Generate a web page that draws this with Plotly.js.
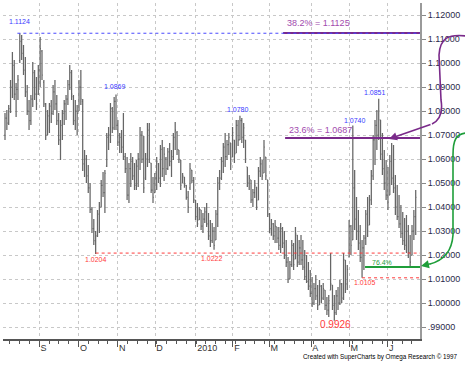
<!DOCTYPE html>
<html><head><meta charset="utf-8">
<script src="https://cdn.plot.ly/plotly-3.0.1.min.js"></script>
<style>html,body{margin:0;padding:0;background:#fff}#chart{width:465px;height:372px}</style>
</head><body><div id="chart"></div>
<script>
const highs=[1.0792,1.0804,1.0825,1.0929,1.1046,1.1013,1.0917,1.0950,1.1124,1.1117,
1.1075,1.1025,1.0908,1.0846,1.0867,1.1004,1.0971,1.0942,1.0992,1.1108,
1.1054,1.0929,1.0833,1.0804,1.0833,1.0846,1.0908,1.0929,1.0867,1.0792,
1.0763,1.0804,1.0846,1.0867,1.0929,1.0992,1.0971,1.0867,1.0846,1.0825,
1.0929,1.0971,1.0850,1.0638,1.0617,1.0575,1.0500,1.0400,1.0350,1.0300,
1.0388,1.0421,1.0513,1.0546,1.0554,1.0708,1.0733,1.0833,1.0817,1.0858,
1.0869,1.0763,1.0708,1.0721,1.0792,1.0625,1.0608,1.0583,1.0625,1.0608,
1.0583,1.0596,1.0625,1.0733,1.0717,1.0696,1.0625,1.0750,1.0750,1.0583,
1.0525,1.0542,1.0608,1.0583,1.0658,1.0679,1.0650,1.0608,1.0646,1.0667,
1.0638,1.0708,1.0754,1.0717,1.0638,1.0596,1.0542,1.0525,1.0492,1.0467,
1.0583,1.0554,1.0525,1.0429,1.0417,1.0400,1.0388,1.0375,1.0400,1.0417,
1.0375,1.0346,1.0333,1.0317,1.0388,1.0525,1.0554,1.0608,1.0667,1.0708,
1.0679,1.0708,1.0667,1.0733,1.0679,1.0763,1.0763,1.0780,1.0771,1.0750,
1.0679,1.0567,1.0533,1.0513,1.0475,1.0513,1.0483,1.0567,1.0608,1.0596,
1.0679,1.0608,1.0513,1.0375,1.0350,1.0333,1.0346,1.0317,1.0317,1.0333,
1.0317,1.0300,1.0263,1.0192,1.0175,1.0263,1.0250,1.0317,1.0283,1.0263,
1.0283,1.0263,1.0221,1.0200,1.0171,1.0138,1.0108,1.0083,1.0117,1.0075,
1.0096,1.0075,1.0083,1.0054,1.0025,1.0033,1.0208,1.0075,1.0033,1.0054,
1.0067,1.0096,1.0083,1.0208,1.0179,1.0158,1.0346,1.0325,1.0740,1.0554,
1.0442,1.0388,1.0325,1.0263,1.0283,1.0388,1.0442,1.0450,1.0554,1.0700,
1.0763,1.0804,1.0851,1.0763,1.0708,1.0638,1.0596,1.0567,1.0617,1.0667,
1.0658,1.0533,1.0492,1.0450,1.0408,1.0379,1.0354,1.0367,1.0325,1.0283,
1.0325,1.0388,1.0471];
const lows=[1.0679,1.0721,1.0742,1.0792,1.0854,1.0846,1.0775,1.0846,1.1000,1.1013,
1.0950,1.0858,1.0783,1.0721,1.0742,1.0817,1.0846,1.0804,1.0867,1.0900,
1.0929,1.0817,1.0679,1.0700,1.0708,1.0750,1.0783,1.0804,1.0742,1.0658,
1.0596,1.0679,1.0742,1.0763,1.0825,1.0888,1.0846,1.0742,1.0721,1.0700,
1.0800,1.0825,1.0550,1.0525,1.0500,1.0458,1.0375,1.0292,1.0242,1.0204,
1.0275,1.0292,1.0400,1.0442,1.0375,1.0567,1.0638,1.0667,1.0708,1.0721,
1.0721,1.0654,1.0625,1.0625,1.0596,1.0542,1.0429,1.0417,1.0483,1.0513,
1.0471,1.0471,1.0483,1.0554,1.0583,1.0458,1.0513,1.0567,1.0583,1.0458,
1.0417,1.0458,1.0471,1.0500,1.0483,1.0525,1.0508,1.0533,1.0554,1.0570,
1.0525,1.0596,1.0638,1.0617,1.0583,1.0471,1.0500,1.0480,1.0430,1.0375,
1.0471,1.0500,1.0417,1.0346,1.0317,1.0346,1.0304,1.0292,1.0333,1.0317,
1.0263,1.0233,1.0250,1.0222,1.0263,1.0317,1.0471,1.0513,1.0542,1.0567,
1.0596,1.0617,1.0554,1.0608,1.0583,1.0625,1.0654,1.0679,1.0667,1.0646,
1.0583,1.0483,1.0471,1.0417,1.0400,1.0438,1.0388,1.0429,1.0525,1.0513,
1.0542,1.0513,1.0358,1.0292,1.0280,1.0263,1.0250,1.0250,1.0221,1.0208,
1.0229,1.0183,1.0150,1.0083,1.0100,1.0150,1.0138,1.0183,1.0150,1.0158,
1.0158,1.0138,1.0096,1.0083,1.0054,1.0025,0.9983,0.9992,1.0013,0.9971,
0.9992,1.0000,1.0013,0.9971,0.9950,0.9942,1.0054,0.9971,0.9926,0.9950,
0.9971,0.9992,1.0000,1.0013,1.0042,1.0054,1.0192,1.0200,1.0263,1.0304,
1.0263,1.0221,1.0171,1.0105,1.0138,1.0242,1.0275,1.0325,1.0408,1.0513,
1.0575,1.0638,1.0679,1.0596,1.0533,1.0471,1.0429,1.0388,1.0450,1.0492,
1.0458,1.0367,1.0346,1.0313,1.0271,1.0242,1.0221,1.0208,1.0188,1.0146,
1.0200,1.0263,1.0283];
const opens=[1.0700,1.0770,1.0750,1.0810,1.0900,1.0990,1.0870,1.0890,1.1010,1.1090,
1.1040,1.0970,1.0880,1.0800,1.0760,1.0850,1.0960,1.0870,1.0870,1.0970,
1.1050,1.0920,1.0830,1.0700,1.0780,1.0820,1.0790,1.0880,1.0830,1.0760,
1.0680,1.0740,1.0790,1.0830,1.0850,1.0910,1.0960,1.0860,1.0760,1.0800,
1.0800,1.0900,1.0840,1.0580,1.0600,1.0530,1.0480,1.0390,1.0310,1.0260,
1.0280,1.0370,1.0400,1.0490,1.0460,1.0570,1.0690,1.0700,1.0810,1.0730,
1.0840,1.0740,1.0670,1.0690,1.0650,1.0610,1.0560,1.0450,1.0560,1.0590,
1.0530,1.0490,1.0570,1.0600,1.0700,1.0600,1.0520,1.0600,1.0720,1.0583,
1.0470,1.0460,1.0520,1.0580,1.0520,1.0640,1.0560,1.0600,1.0560,1.0630,
1.0590,1.0610,1.0690,1.0710,1.0638,1.0596,1.0500,1.0525,1.0490,1.0440,
1.0480,1.0554,1.0510,1.0429,1.0360,1.0346,1.0388,1.0320,1.0350,1.0380,
1.0330,1.0280,1.0260,1.0300,1.0263,1.0370,1.0500,1.0520,1.0590,1.0650,
1.0610,1.0660,1.0667,1.0608,1.0679,1.0625,1.0740,1.0680,1.0760,1.0690,
1.0679,1.0567,1.0500,1.0513,1.0430,1.0460,1.0483,1.0429,1.0550,1.0580,
1.0542,1.0608,1.0513,1.0370,1.0310,1.0330,1.0280,1.0317,1.0270,1.0240,
1.0310,1.0250,1.0200,1.0170,1.0100,1.0160,1.0240,1.0183,1.0283,1.0170,
1.0230,1.0180,1.0150,1.0110,1.0090,1.0070,1.0040,1.0000,1.0060,1.0030,
0.9992,1.0070,1.0020,1.0054,0.9990,0.9970,1.0054,1.0075,0.9990,0.9960,
1.0030,1.0000,1.0080,1.0020,1.0179,1.0080,1.0192,1.0320,1.0263,1.0480,
1.0350,1.0300,1.0250,1.0190,1.0230,1.0270,1.0370,1.0325,1.0430,1.0530,
1.0680,1.0740,1.0700,1.0763,1.0620,1.0560,1.0500,1.0450,1.0450,1.0590,
1.0520,1.0480,1.0400,1.0360,1.0330,1.0290,1.0260,1.0240,1.0300,1.0210,
1.0200,1.0300,1.0360];
const closes=[1.0770,1.0750,1.0810,1.0900,1.0990,1.0870,1.0890,1.0930,1.1090,1.1040,
1.0970,1.0880,1.0800,1.0760,1.0850,1.0960,1.0870,1.0830,1.0970,1.1060,
1.0950,1.0830,1.0700,1.0780,1.0820,1.0790,1.0880,1.0830,1.0760,1.0680,
1.0740,1.0790,1.0830,1.0850,1.0910,1.0960,1.0870,1.0760,1.0800,1.0790,
1.0900,1.0850,1.0580,1.0600,1.0530,1.0480,1.0390,1.0310,1.0260,1.0280,
1.0370,1.0400,1.0490,1.0460,1.0540,1.0690,1.0700,1.0810,1.0730,1.0840,
1.0740,1.0670,1.0690,1.0650,1.0610,1.0560,1.0450,1.0560,1.0590,1.0530,
1.0490,1.0570,1.0600,1.0700,1.0600,1.0480,1.0600,1.0720,1.0600,1.0470,
1.0440,1.0520,1.0590,1.0520,1.0640,1.0560,1.0620,1.0560,1.0630,1.0590,
1.0610,1.0690,1.0720,1.0640,1.0600,1.0490,1.0530,1.0490,1.0440,1.0400,
1.0560,1.0510,1.0430,1.0360,1.0330,1.0390,1.0320,1.0350,1.0380,1.0330,
1.0280,1.0260,1.0300,1.0240,1.0370,1.0500,1.0520,1.0590,1.0650,1.0610,
1.0660,1.0690,1.0580,1.0710,1.0620,1.0740,1.0680,1.0760,1.0690,1.0730,
1.0600,1.0500,1.0520,1.0430,1.0460,1.0490,1.0400,1.0550,1.0580,1.0530,
1.0650,1.0530,1.0370,1.0310,1.0330,1.0280,1.0320,1.0270,1.0240,1.0310,
1.0250,1.0200,1.0170,1.0100,1.0160,1.0240,1.0160,1.0290,1.0170,1.0230,
1.0180,1.0150,1.0110,1.0090,1.0070,1.0040,1.0000,1.0060,1.0030,0.9990,
1.0070,1.0020,1.0060,0.9990,0.9970,1.0010,1.0080,0.9990,0.9960,1.0030,
1.0000,1.0080,1.0020,1.0180,1.0080,1.0140,1.0320,1.0240,1.0480,1.0350,
1.0300,1.0250,1.0190,1.0230,1.0270,1.0370,1.0300,1.0430,1.0530,1.0680,
1.0740,1.0700,1.0800,1.0620,1.0560,1.0500,1.0450,1.0420,1.0590,1.0520,
1.0480,1.0400,1.0360,1.0330,1.0290,1.0260,1.0240,1.0300,1.0210,1.0170,
1.0300,1.0360,1.0440];

// month tick positions (in bar units) and labels
const monthTicks=[18.5,39.8,60.9,81.1,103.2,123.2,142.9,165.4,186.1,206.9];
const monthLabels=['S','O','N','D','2010','F','M','A','M','J'];
const priceTicks=[0.99,1.00,1.01,1.02,1.03,1.04,1.05,1.06,1.07,1.08,1.09,1.10,1.11,1.12];
const priceLabels=['.99000','1.00000','1.01000','1.02000','1.03000','1.04000','1.05000','1.06000','1.07000','1.08000','1.09000','1.10000','1.11000','1.12000'];
const fibLevels=[1.1125,1.0687,1.0150];
const fibLabels=['38.2% = 1.1125','23.6% = 1.0687','76.4%'];

const idx=highs.map((_,i)=>i);
const XEND=224.32;
const L=3,T=3,W=417,H=336;
const px=x=>(x-L)/W, py=y=>(T+H-y)/H;

const trace={type:'ohlc',x:idx,open:opens,high:highs,low:lows,close:closes,
  increasing:{line:{color:'#666666',width:1.25}},decreasing:{line:{color:'#666666',width:1.25}},
  tickwidth:0.45,hoverinfo:'skip',showlegend:false};

const purple='#7a2a8a', purpleTxt='#a24aae', green='#1f9e3a', blue='#3a3aff', red='#ff3b3b';
const hiI=v=>highs.indexOf(v), loI=v=>lows.indexOf(v);

const shapes=[
 {type:'line',xref:'x',yref:'y',x0:150.3,x1:XEND,y0:fibLevels[0],y1:fibLevels[0],line:{color:purple,width:2}},
 {type:'line',xref:'x',yref:'y',x0:hiI(1.1124)-1.3,x1:XEND,y0:1.1124,y1:1.1124,line:{color:'#4848ff',width:1,dash:'dot'}},
 {type:'line',xref:'x',yref:'y',x0:151.4,x1:XEND,y0:fibLevels[1],y1:fibLevels[1],line:{color:purple,width:2}},
 {type:'line',xref:'x',yref:'y',x0:loI(1.0204),x1:XEND,y0:1.0208,y1:1.0208,line:{color:red,width:1,dash:'dot'}},
 {type:'line',xref:'x',yref:'y',x0:loI(1.0105),x1:XEND,y0:1.0105,y1:1.0105,line:{color:red,width:1,dash:'dot'}},
 {type:'line',xref:'x',yref:'y',x0:194.6,x1:XEND,y0:fibLevels[2],y1:fibLevels[2],line:{color:green,width:2}},
 {type:'path',xref:'paper',yref:'paper',line:{color:purple,width:1.6},
  path:`M ${px(466)} ${py(36)} C ${px(448)} ${py(34)}, ${px(440)} ${py(38)}, ${px(439)} ${py(55)} L ${px(441)} ${py(100)} C ${px(443)} ${py(112)}, ${px(440)} ${py(120)}, ${px(432)} ${py(124)}`},
 {type:'path',xref:'paper',yref:'paper',line:{color:green,width:1.6},
  path:`M ${px(466)} ${py(133)} C ${px(456)} ${py(134)}, ${px(453)} ${py(140)}, ${px(453)} ${py(155)} L ${px(453)} ${py(235)} C ${px(452)} ${py(250)}, ${px(445)} ${py(260)}, ${px(430)} ${py(264)}`}
];

function lab(i,v,text,color,size,ys,xs){
  return {xref:'x',yref:'y',x:i,y:v,text:text,showarrow:false,xanchor:'center',yanchor:'middle',
    yshift:ys,xshift:xs||0,font:{family:'Liberation Sans, Arial, sans-serif',size:size,color:color}};
}
const annotations=[
 lab(hiI(1.1124),1.1124,'1.1124',blue,7,12,0),
 lab(hiI(1.0869),1.0869,'1.0869',blue,7,8,-1),
 lab(hiI(1.0780),1.0780,'1.0780',blue,7,6,-2),
 lab(hiI(1.0740),1.0740,'1.0740',blue,7,5,2),
 lab(hiI(1.0851),1.0851,'1.0851',blue,7,6,-4),
 lab(loI(1.0204),1.0204,'1.0204',red,7,-5,0),
 lab(loI(1.0222),1.0222,'1.0222',red,7,-8.5,-2),
 lab(loI(1.0105),1.0105,'1.0105',red,7,-5,3),
 lab(loI(0.9926),0.9926,'0.9926',red,10,-4,1),
 {xref:'x',yref:'y',x:151.4,y:fibLevels[0],text:fibLabels[0],showarrow:false,xanchor:'left',yanchor:'middle',yshift:10,font:{family:'Liberation Sans, Arial',size:9,color:purpleTxt}},
 {xref:'x',yref:'y',x:152.4,y:fibLevels[1],text:fibLabels[1],showarrow:false,xanchor:'left',yanchor:'middle',yshift:8,font:{family:'Liberation Sans, Arial',size:9,color:purpleTxt}},
 {xref:'x',yref:'y',x:197.3,y:fibLevels[2],text:fibLabels[2],showarrow:false,xanchor:'left',yanchor:'middle',yshift:5,font:{family:'Liberation Sans, Arial',size:7,color:green}},
 {xref:'paper',yref:'paper',x:px(389),y:py(139),ax:43,ay:-15,text:'',showarrow:true,arrowhead:2,arrowsize:1,arrowwidth:1.6,arrowcolor:purple},
 {xref:'paper',yref:'paper',x:px(421),y:py(266),ax:11,ay:-2.5,text:'',showarrow:true,arrowhead:2,arrowsize:1,arrowwidth:1.6,arrowcolor:green},
 {xref:'paper',yref:'paper',x:px(459),y:py(357),xanchor:'right',yanchor:'middle',showarrow:false,borderpad:0,
  text:'Created with SuperCharts by Omega Research © 1997',font:{family:'Liberation Sans, Arial',size:6.3,color:'#000'}}
];

const layout={width:465,height:372,margin:{l:L,r:465-L-W,t:T,b:372-T-H},
 paper_bgcolor:'#fff',plot_bgcolor:'#fff',showlegend:false,
 font:{family:'Liberation Sans, Arial, sans-serif'},
 xaxis:{range:[-1.08,XEND],tickmode:'array',tickvals:monthTicks,ticktext:monthLabels,
   ticks:'outside',ticklen:6,tickcolor:'#555',ticklabelposition:'outside right',
   tickfont:{size:9,color:'#333'},showline:true,linecolor:'#555',linewidth:1.5,
   showgrid:true,gridcolor:'#c8c8c8',griddash:'dot',gridwidth:1,zeroline:false,
   rangeslider:{visible:false},fixedrange:true,
   minor:{tickmode:'linear',tick0:18.5,dtick:5.3,ticks:'outside',ticklen:3,tickcolor:'#555',showgrid:false}},
 yaxis:{range:[0.985,1.125],side:'right',tickmode:'array',tickvals:priceTicks,ticktext:priceLabels,
   ticks:'outside',ticklen:4,tickcolor:'#888',tickfont:{size:9,color:'#2a2a4a'},
   showline:true,linecolor:'#9a9a9a',linewidth:2,showgrid:true,gridcolor:'#c8c8c8',griddash:'dot',
   zeroline:false,fixedrange:true},
 shapes:shapes,annotations:annotations};

Plotly.newPlot('chart',[trace],layout,{staticPlot:true,displayModeBar:false});
</script></body></html>
